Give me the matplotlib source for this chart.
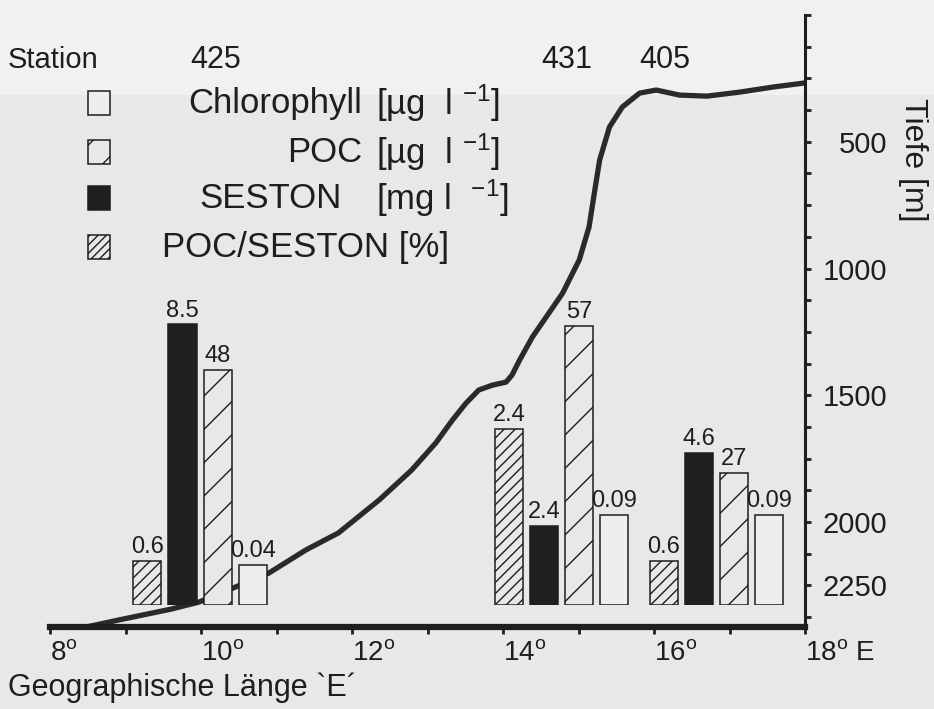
import matplotlib
matplotlib.use('Agg')
import matplotlib.pyplot as plt
from matplotlib.patches import Rectangle
from matplotlib.ticker import FixedLocator
from matplotlib.transforms import blended_transform_factory

plt.rcParams['font.family'] = ['Liberation Sans', 'DejaVu Sans']
plt.rcParams['mathtext.default'] = 'regular'
plt.rcParams['hatch.linewidth'] = 1.0

INK = '#1e1e1e'
BG = '#e8e8e8'

# bathymetrie entlang des schnitts (laenge in grad E, tiefe in m)
lon = [8.48, 8.90, 9.61, 9.97, 10.46, 10.90, 11.39, 11.82, 12.36, 12.79, 13.11, 13.33,
       13.51, 13.68, 13.86, 14.04, 14.12, 14.22, 14.39, 14.48, 14.79, 15.01, 15.14, 15.21,
       15.28, 15.41, 15.58, 15.81, 16.03, 16.34, 16.70, 17.14, 17.58, 18.00]
depth = [2414, 2387, 2343, 2316, 2256, 2201, 2110, 2043, 1913, 1795, 1688, 1598,
         1531, 1479, 1460, 1448, 1420, 1361, 1270, 1231, 1097, 966, 836, 702,
         572, 442, 363, 308, 296, 316, 320, 304, 284, 268]

# stationen
stations = ['425', '431', '405']
station_label_lon = [10.2, 14.85, 16.14]
group_lon = [9.29, 14.08, 16.13]

# messwerte je station
poc_seston = [0.6, 2.4, 0.6]   # %
seston = [8.5, 2.4, 4.6]       # mg/l
poc = [48, 57, 27]             # ug/l
chl = [0.04, 0.09, 0.09]       # ug/l

depth_ticks = [500, 1000, 1500, 2000, 2250]
lon_ticks = [8, 10, 12, 14, 16, 18]

fig = plt.figure(figsize=(9.34, 7.09), dpi=100, facecolor=BG)
W, H = 934., 709.

# hellerer streifen oben (papier)
fig.patches.append(Rectangle((0, 1 - 95 / H), 1, 95 / H, transform=fig.transFigure,
                             facecolor='#f1f1f1', edgecolor='none', zorder=-10))

x0, x1 = 50 / W, 805 / W
ax = fig.add_axes([x0, 1 - 627 / H, x1 - x0, (627 - 15) / H])
ax.set_facecolor('none')
ax.plot(lon, depth, color='#2a2a2a', lw=3.8, solid_capstyle='round',
        solid_joinstyle='round', zorder=2)
ax.set_xlim(8, 18)
ax.set_ylim(2414, 0)

for s in ['left', 'top']:
    ax.spines[s].set_visible(False)
ax.spines['bottom'].set_linewidth(4.5)
ax.spines['bottom'].set_color(INK)
ax.spines['right'].set_linewidth(2.2)
ax.spines['right'].set_color(INK)

ax.yaxis.tick_right()
ax.yaxis.set_major_locator(FixedLocator(depth_ticks))
ax.yaxis.set_minor_locator(FixedLocator(range(0, 2400, 125)))
ax.tick_params(axis='y', which='both', direction='out', length=4, width=2,
               color=INK, labelsize=21, labelcolor=INK)
for t in ax.get_yticklabels():
    t.set_horizontalalignment('right')
ax.tick_params(axis='y', which='major', pad=55)

ax.xaxis.set_major_locator(FixedLocator(lon_ticks))
ax.xaxis.set_minor_locator(FixedLocator(range(8, 19)))
ax.set_xticklabels([f'{v}$^{{o}}$' if v < 18 else f'{v}$^{{o}}$ E' for v in lon_ticks])
for t in ax.get_xticklabels():
    t.set_horizontalalignment('left')
ax.tick_params(axis='x', which='both', direction='out', length=5, width=2,
               color=INK, labelsize=20, labelcolor=INK, pad=4)

# balken in eigener achse, jede groesse mit eigenem massstab
ax_bar = fig.add_axes([x0, 1 - 605 / H, x1 - x0, 300 / H], sharex=ax)
ax_bar.set_facecolor('none')
ax_bar.set_ylim(0, 1)
ax_bar.axis('off')

series = [
    (poc_seston, 4.08, dict(facecolor=BG, hatch='///')),
    (seston, 9.09, dict(facecolor='#202020')),
    (poc, 61.3, dict(facecolor=BG, hatch='/')),
    (chl, 0.30, dict(facecolor='#eeeeee')),
]
step, width = 0.465, 0.372
for k, (vals, full, style) in enumerate(series):
    xs = [g + k * step for g in group_lon]
    hs = [v / full for v in vals]
    ax_bar.bar(xs, hs, width=width, edgecolor=INK, linewidth=1.1, zorder=3, **style)
    for x, h, v in zip(xs, hs, vals):
        ax_bar.annotate(f'{v:g}', (x, h), xytext=(0, 2), textcoords='offset points',
                        ha='center', va='bottom', fontsize=17, color=INK)

# stationsnummern ueber den profilen
top_row = blended_transform_factory(ax.transData, fig.transFigure)
for name, sl in zip(stations, station_label_lon):
    ax.text(sl, 1 - 60 / H, name, transform=top_row, fontsize=22,
            color=INK, ha='center', va='center')

# texte und legende in pixelkoordinaten
ov = fig.add_axes([0, 0, 1, 1], zorder=5)
ov.set_xlim(0, W)
ov.set_ylim(H, 0)
ov.axis('off')
ov.set_facecolor('none')

ov.text(8, 60, 'Station', fontsize=21, color=INK, va='center', ha='left')

legend_rows = [
    (103, dict(facecolor='#eeeeee'), 'Chlorophyll', 362, '[µg  l $^{-1}$]'),
    (152, dict(facecolor=BG, hatch='/'), 'POC', 362, '[µg  l $^{-1}$]'),
    (198, dict(facecolor='#202020'), 'SESTON', 342, '[mg l  $^{-1}$]'),
    (247, dict(facecolor=BG, hatch='////'), None, None, None),
]
for y, style, name, xr, unit in legend_rows:
    ov.add_patch(Rectangle((88, y - 12), 22, 24, edgecolor=INK, linewidth=1.1, **style))
    if name is not None:
        ov.text(xr, y, name, fontsize=25, color=INK, ha='right', va='center')
        ov.text(376, y, unit, fontsize=25, color=INK, ha='left', va='center')
ov.text(162, 247, 'POC/SESTON [%]', fontsize=25, color=INK, ha='left', va='center')

ov.text(913, 160, 'Tiefe [m]', fontsize=23, color=INK, rotation=-90,
        ha='center', va='center')
ov.text(8, 688, 'Geographische Länge `E´', fontsize=22, color=INK,
        ha='left', va='center')

fig.savefig('out.png', dpi=100, facecolor=fig.get_facecolor())
